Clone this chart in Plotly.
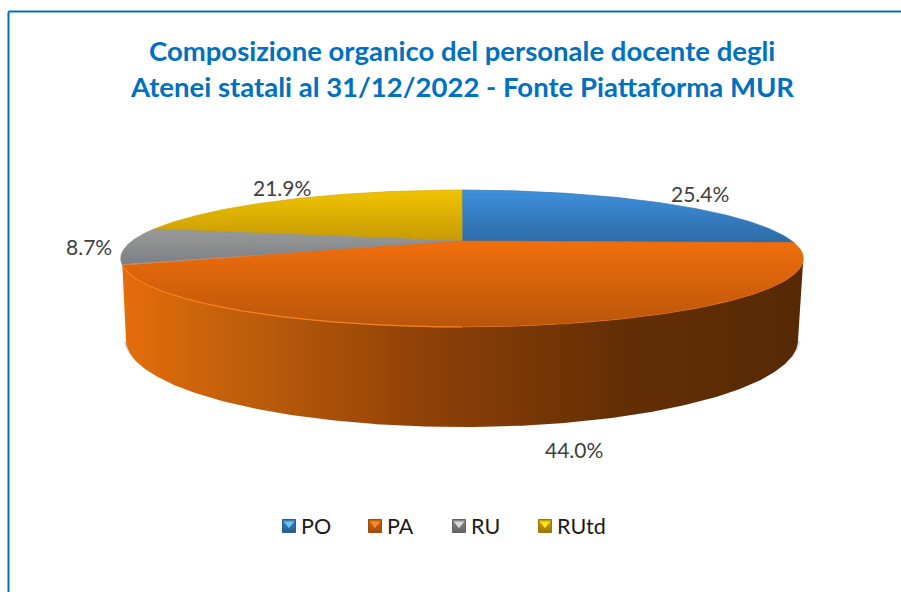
import numpy as np
import plotly.graph_objects as go

categories = ["PO", "PA", "RU", "RUtd"]
shares = [25.4, 44.0, 8.7, 21.9]
title_lines = ["Composizione organico del personale docente degli",
               "Atenei statali al 31/12/2022 - Fonte Piattaforma MUR"]
top_colors = {
    "PO": ("#3f90dc", "#2c6ba6", "#3577b8"),
    "PA": ("#f26e0b", "#b8560b", "#e0660b"),
    "RU": ("#9a9a9a", "#7b7f84", "#8b8c8e"),
    "RUtd": ("#f0c400", "#c79a06", "#d8ac04"),
}
legend_colors = {
    "PO": ("#3b82c0", "#275c8e", "#6cc4f4"),
    "PA": ("#d0660f", "#a04c08", "#f98c2e"),
    "RU": ("#8c8c8c", "#626262", "#dcdcdc"),
    "RUtd": ("#d0a400", "#9a7700", "#ffe61a"),
}
label_pos = [(699.5, 193), (573.5, 449), (89, 246), (281.5, 187)]
legend_x = [289, 375, 459, 545]

# projection of the pie disc
CX, CY, A, B, K = 462.0, 241.0, 330.0, 64.0, 0.2555
BX, BY, BRX, BRY = 462.0, 340.0, 336.0, 87.0


def top_xy(theta):
    u, v = np.sin(theta), -np.cos(theta)
    d = 1 - K * v
    return CX + A * u / d, CY + B * v / d


def bottom_xy(phi):
    return BX + BRX * np.cos(phi), BY + BRY * np.sin(phi)


edges = np.cumsum([0] + shares) / sum(shares) * 2 * np.pi
fig = go.Figure()

# soft shadow
for grow, alpha in ((3.5, 0.10), (2.2, 0.16), (1.0, 0.25)):
    phi = np.linspace(0.05, np.pi - 0.05, 160)
    sx, sy = bottom_xy(phi)
    sx = BX + (sx - BX) * (BRX + grow) / BRX
    sy = BY - 3 + (sy - BY) * (BRY + grow) / BRY
    fig.add_trace(go.Scatter(x=np.r_[sx, sx[0]], y=np.r_[sy, sy[0]], mode="lines",
                             fill="toself", fillcolor=f"rgba(90,100,125,{alpha})",
                             line=dict(width=0), showlegend=False, hoverinfo="skip"))

# side wall of the front rim, from the rightmost point of the disc round to the PA edge
phi = np.linspace(0, np.pi, 240)
bx, by = bottom_xy(phi)
theta = np.linspace(np.arccos(-K), edges[2], 240)
tx, ty = top_xy(theta)
fig.add_trace(go.Scatter(
    x=np.r_[tx, bx[::-1]], y=np.r_[ty, by[::-1]], mode="lines", fill="toself",
    line=dict(width=0), showlegend=False, hoverinfo="skip",
    fillgradient=dict(type="horizontal", colorscale=[
        [0, "#e56d0a"], [0.16, "#c2600b"], [0.45, "#8e4007"],
        [0.72, "#652f05"], [1, "#562904"]])))

# top faces: drawn back to front so the orange face stays on top of its neighbours
for i in (0, 3, 2, 1):
    cat = categories[i]
    theta = np.linspace(edges[i], edges[i + 1], 200)
    x, y = top_xy(theta)
    x = np.r_[CX, x, CX]
    y = np.r_[CY, y, CY]
    fig.add_trace(go.Scatter(
        x=x, y=y, mode="lines", fill="toself",
        line=dict(width=0.7, color=top_colors[cat][2]),
        showlegend=False, hoverinfo="skip", name=cat,
        fillgradient=dict(type="vertical", colorscale=[
            [0, top_colors[cat][1]], [1, top_colors[cat][0]]])))

# highlight on the front-left bevel
theta = np.linspace(edges[2] - 0.03, np.radians(180), 120)
x, y = top_xy(theta)
fig.add_trace(go.Scatter(x=x, y=y, mode="lines", line=dict(color="#f47d1e", width=1.3),
                         showlegend=False, hoverinfo="skip"))

annotations = [dict(x=px, y=py, text=f"{s:.1f}%", showarrow=False, xref="x", yref="y",
                    font=dict(family="Lato", size=21, color="#404040"))
               for (px, py), s in zip(label_pos, shares)]
for line, ty_ in zip(title_lines, (50, 86.5)):
    annotations.append(dict(x=462, y=ty_, text=f"<b>{line}</b>", showarrow=False,
                            xref="x", yref="y",
                            font=dict(family="Lato", size=27.5, color="#0070c0")))

# legend, drawn as bevelled squares next to the series names
LEG_Y = 526
for cat, lx in zip(categories, legend_x):
    base, dark, light = legend_colors[cat]
    fig.add_trace(go.Scatter(
        x=[lx], y=[LEG_Y], mode="markers", name=cat, showlegend=False, hoverinfo="name",
        marker=dict(symbol="square", size=13, color=base,
                    gradient=dict(type="vertical", color=dark),
                    line=dict(width=1, color=dark))))
    fig.add_trace(go.Scatter(
        x=[lx], y=[LEG_Y - 2.2], mode="markers", name=cat, showlegend=False, hoverinfo="skip",
        marker=dict(symbol="triangle-down", size=9, color=light, line=dict(width=0))))
    annotations.append(dict(x=lx + 9.5, y=LEG_Y, text=cat, showarrow=False, xanchor="left",
                            xref="x", yref="y",
                            font=dict(family="Lato", size=21.5, color="#1a1a1a")))

fig.update_layout(
    width=901, height=592, margin=dict(l=0, r=0, t=0, b=0),
    paper_bgcolor="white", plot_bgcolor="white",
    xaxis=dict(range=[0, 901], visible=False, fixedrange=True),
    yaxis=dict(range=[592, 0], visible=False, fixedrange=True),
    annotations=annotations,
    shapes=[
        dict(type="line", xref="x", yref="y", x0=8.5, x1=8.5, y0=11.5, y1=592,
             line=dict(color="#0070c0", width=2)),
        dict(type="line", xref="x", yref="y", x0=8.5, x1=901, y0=11.5, y1=11.5,
             line=dict(color="#0070c0", width=2)),
    ],
    showlegend=False,
)
fig.write_html("out.html", config={"displayModeBar": False},
               post_script="document.body.style.margin='0';document.body.style.overflow='hidden';")
